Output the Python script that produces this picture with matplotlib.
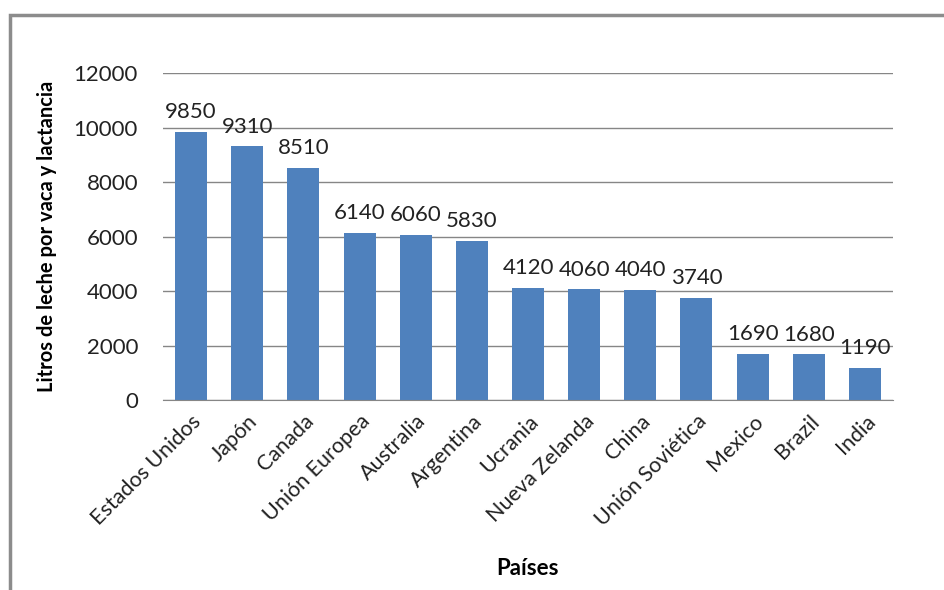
import matplotlib.pyplot as plt
from matplotlib.patches import Rectangle

paises = ["Estados Unidos", "Japón", "Canada", "Unión Europea", "Australia",
          "Argentina", "Ucrania", "Nueva Zelanda", "China", "Unión Soviética",
          "Mexico", "Brazil", "India"]
litros = [9850, 9310, 8510, 6140, 6060, 5830, 4120, 4060, 4040, 3740, 1690, 1680, 1190]
yticks = [0, 2000, 4000, 6000, 8000, 10000, 12000]

plt.rcParams['font.family'] = ['Lato', 'DejaVu Sans']

fig = plt.figure(figsize=(9.45, 5.9), dpi=100)
ax = fig.add_axes([0.1725, 0.322, 0.7725, 0.554])

x = range(len(paises))
bars = ax.bar(x, litros, width=0.57, color="#4F81BD", zorder=2)
for b, v in zip(bars, litros):
    ax.annotate(str(v), (b.get_x() + b.get_width() / 2, v), xytext=(0, 7),
                textcoords="offset points", ha="center", va="bottom",
                fontsize=16, color="#222222")

ax.set_xlim(-0.5, len(paises) - 0.5)
ax.set_ylim(0, 12000)
ax.set_yticks(yticks)
ax.set_yticklabels([str(t) for t in yticks], fontsize=16, color="#222222")
ax.set_xticks(list(x))
ax.set_xticklabels(paises, rotation=45, ha="right", rotation_mode="anchor",
                   fontsize=15.5, color="#222222")
ax.tick_params(axis="y", length=0, pad=18)
ax.tick_params(axis="x", length=0, pad=8)
ax.grid(axis="y", color="#868686", linewidth=1, zorder=0)
for s in ["top", "right", "left"]:
    ax.spines[s].set_visible(False)
ax.spines["bottom"].set_color("#868686")

ax.set_ylabel("Litros de leche por vaca y lactancia", fontsize=14.5, fontweight="bold", labelpad=12)
fig.text(0.558, 0.037, "Países", fontsize=16, fontweight="bold", ha="center", va="center")

fig.add_artist(Rectangle((10 / 945, -0.1), 1.2, 1 - 15 / 590 + 0.1, transform=fig.transFigure,
                         fill=False, edgecolor="#8c8c8c", linewidth=2.5))

fig.savefig("out.png", dpi=100)
